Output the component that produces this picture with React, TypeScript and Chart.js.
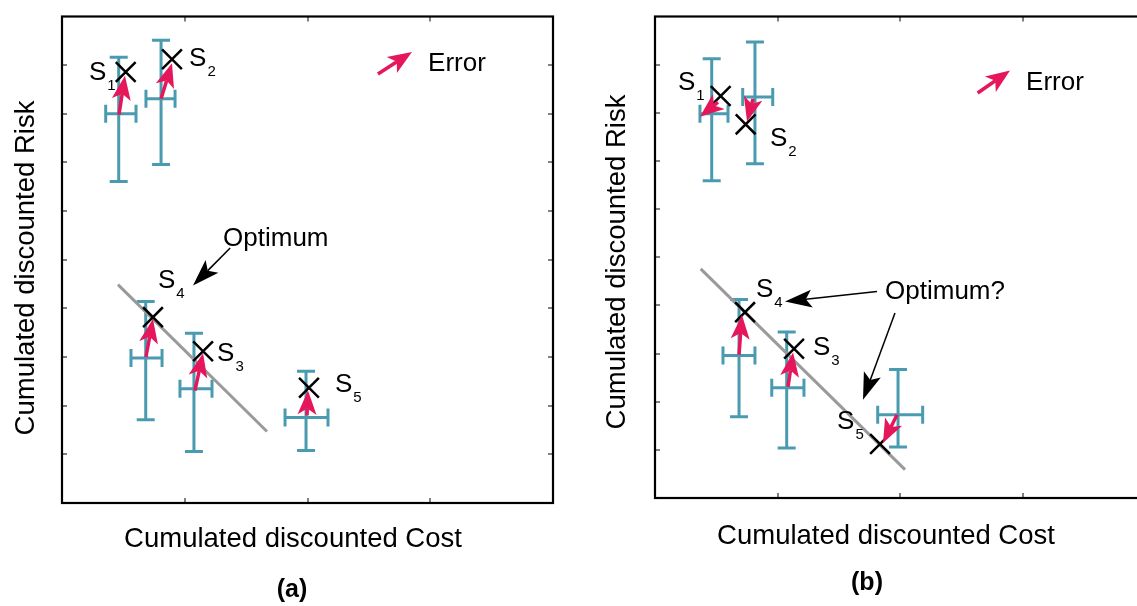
import React, { useEffect, useRef } from 'react';
import { Chart, registerables } from 'chart.js';
Chart.register(...registerables);

// ---------- shared ----------
const xTickValues = [1, 2, 3];
const yTickValues = [1, 2, 3, 4, 5, 6, 7, 8, 9];
const seriesNames = ['1', '2', '3', '4', '5']; // S subscripts

// ---------- panel (a) ----------
const aEstX = [0.462, 0.807, 1.075, 0.682, 1.988];
const aEstY = [8.0, 8.31, 2.35, 2.98, 1.76];
const aXLow = [0.356, 0.684, 0.961, 0.562, 1.817];
const aXHigh = [0.603, 0.921, 1.222, 0.815, 2.167];
const aYLow = [6.61, 6.96, 1.06, 1.71, 1.08];
const aYHigh = [9.16, 9.51, 3.49, 4.14, 2.71];
const aTrueX = [0.519, 0.896, 1.149, 0.741, 2.012];
const aTrueY = [8.86, 9.12, 3.12, 3.82, 2.37];
const aErrFromX = [0.464, 0.807, 1.083, 0.684, 1.996];
const aErrFromY = [7.98, 8.31, 2.31, 3.0, 1.8];
const aErrToX = [0.513, 0.896, 1.149, 0.741, 2.004];
const aErrToY = [8.78, 9.04, 3.08, 3.78, 2.31];
const aFrontX = [0.456, 1.67];
const aFrontY = [4.49, 1.47];
const aLabelX = [0.22, 1.035, 1.263, 0.782, 2.224];
const aLabelY = [8.69, 8.98, 2.92, 4.41, 2.29];

// ---------- panel (b) ----------
const bEstX = [0.463, 0.816, 1.075, 0.686, 1.984];
const bEstY = [7.98, 8.33, 2.29, 2.96, 1.73];
const bXLow = [0.367, 0.716, 0.953, 0.555, 1.818];
const bXHigh = [0.596, 0.961, 1.216, 0.816, 2.185];
const bYLow = [6.59, 6.94, 1.04, 1.69, 1.06];
const bYHigh = [9.12, 9.47, 3.45, 4.12, 2.67];
const bTrueX = [0.536, 0.74, 1.135, 0.735, 1.837];
const bTrueY = [8.35, 7.76, 3.1, 3.86, 1.12];
const bErrFromX = [0.514, 0.8, 1.086, 0.686, 1.976];
const bErrFromY = [8.22, 8.29, 2.31, 2.98, 1.73];
const bErrToX = [0.367, 0.751, 1.127, 0.71, 1.861];
const bErrToY = [7.92, 7.82, 3.02, 3.8, 1.14];
const bFrontX = [0.373, 2.041];
const bFrontY = [4.76, 0.59];
const bLabelX = [0.188, 0.939, 1.29, 0.824, 1.486];
const bLabelY = [8.47, 7.31, 2.98, 4.18, 1.43];

// ---------- annotation text ----------
const xTitle = 'Cumulated discounted Cost';
const yTitle = 'Cumulated discounted Risk';
const legendText = 'Error';

const FONT = "'Liberation Sans', Arial, Helvetica, sans-serif";
const TEAL = '#4a9bb0';
const PINK = '#e5175a';

type Panel = {
  estX: number[]; estY: number[]; xLow: number[]; xHigh: number[]; yLow: number[]; yHigh: number[];
  trueX: number[]; trueY: number[];
  errFromX: number[]; errFromY: number[]; errToX: number[]; errToY: number[];
  frontX: number[]; frontY: number[];
  labelX: number[]; labelY: number[];
  legendArrow: number[][]; legendLabel: number[];
  optText: string; optLabel: number[]; optArrows: number[][][];
  tag: string;
  canvasLeft: number; width: number; height: number;
  padding: { left: number; top: number; right: number; bottom: number };
  yTitlePos: number[]; xTitlePos: number[]; tagPos: number[];
};

const panelA: Panel = {
  estX: aEstX, estY: aEstY, xLow: aXLow, xHigh: aXHigh, yLow: aYLow, yHigh: aYHigh,
  trueX: aTrueX, trueY: aTrueY,
  errFromX: aErrFromX, errFromY: aErrFromY, errToX: aErrToX, errToY: aErrToY,
  frontX: aFrontX, frontY: aFrontY, labelX: aLabelX, labelY: aLabelY,
  legendArrow: [[2.574, 8.82], [2.851, 9.27]], legendLabel: [2.982, 8.88],
  optText: 'Optimum', optLabel: [1.312, 5.29],
  optArrows: [[[1.37, 5.24], [1.067, 4.47]]],
  tag: '(a)', canvasLeft: 0, width: 600, height: 606,
  padding: { left: 62, top: 13, right: 47, bottom: 103 },
  yTitlePos: [26, 268], xTitlePos: [293, 539], tagPos: [292, 590],
};

const panelB: Panel = {
  estX: bEstX, estY: bEstY, xLow: bXLow, xHigh: bXHigh, yLow: bYLow, yHigh: bYHigh,
  trueX: bTrueX, trueY: bTrueY,
  errFromX: bErrFromX, errFromY: bErrFromY, errToX: bErrToX, errToY: bErrToY,
  frontX: bFrontX, frontY: bFrontY, labelX: bLabelX, labelY: bLabelY,
  legendArrow: [[2.634, 8.41], [2.898, 8.88]], legendLabel: [3.029, 8.47],
  optText: 'Optimum?', optLabel: [1.878, 4.14],
  optArrows: [[[1.812, 4.29], [1.061, 4.08]], [[1.959, 3.84], [1.698, 2.04]]],
  tag: '(b)', canvasLeft: 580, width: 600, height: 606,
  padding: { left: 75, top: 8, right: 35, bottom: 108 },
  yTitlePos: [37, 262], xTitlePos: [306, 536], tagPos: [287, 583],
};

function drawArrow(ctx: CanvasRenderingContext2D, x1: number, y1: number, x2: number, y2: number,
  color: string, lw: number, headLen: number, headW: number, notch: number) {
  const dx = x2 - x1, dy = y2 - y1;
  const len = Math.hypot(dx, dy) || 1;
  const ux = dx / len, uy = dy / len;
  const px = -uy, py = ux;
  const bx = x2 - ux * headLen, by = y2 - uy * headLen;
  const nx = x2 - ux * (headLen - notch), ny = y2 - uy * (headLen - notch);
  ctx.save();
  ctx.strokeStyle = color; ctx.fillStyle = color; ctx.lineWidth = lw; ctx.lineCap = 'butt';
  ctx.beginPath(); ctx.moveTo(x1, y1); ctx.lineTo(nx, ny); ctx.stroke();
  ctx.beginPath();
  ctx.moveTo(x2, y2);
  ctx.lineTo(bx + px * headW / 2, by + py * headW / 2);
  ctx.lineTo(nx, ny);
  ctx.lineTo(bx - px * headW / 2, by - py * headW / 2);
  ctx.closePath(); ctx.fill();
  ctx.restore();
}

function makePlugin(p: Panel) {
  return {
    id: 'decor' + p.tag,
    afterDatasetsDraw(chart: any) {
      const ctx: CanvasRenderingContext2D = chart.ctx;
      const xs = chart.scales.x, ys = chart.scales.y;
      const X = (v: number) => xs.getPixelForValue(v);
      const Y = (v: number) => ys.getPixelForValue(v);
      // error arrows
      for (let i = 0; i < p.errFromX.length; i++) {
        drawArrow(ctx, X(p.errFromX[i]), Y(p.errFromY[i]), X(p.errToX[i]), Y(p.errToY[i]), PINK, 3.5, 24, 19, 6);
      }
      // legend
      const la = p.legendArrow;
      drawArrow(ctx, X(la[0][0]), Y(la[0][1]), X(la[1][0]), Y(la[1][1]), PINK, 3.5, 24, 19, 6);
      ctx.save();
      ctx.fillStyle = '#000';
      ctx.textBaseline = 'alphabetic';
      ctx.textAlign = 'left';
      ctx.font = `26px ${FONT}`;
      ctx.fillText(legendText, X(p.legendLabel[0]), Y(p.legendLabel[1]));
      // S labels
      for (let i = 0; i < p.labelX.length; i++) {
        const lx = X(p.labelX[i]), ly = Y(p.labelY[i]);
        ctx.font = `26px ${FONT}`;
        ctx.fillText('S', lx, ly);
        const w = ctx.measureText('S').width;
        ctx.font = `15px ${FONT}`;
        ctx.fillText(seriesNames[i], lx + w + 1, ly + 10);
      }
      // optimum annotation
      ctx.font = `26px ${FONT}`;
      ctx.fillText(p.optText, X(p.optLabel[0]), Y(p.optLabel[1]));
      ctx.restore();
      for (const a of p.optArrows) {
        drawArrow(ctx, X(a[0][0]), Y(a[0][1]), X(a[1][0]), Y(a[1][1]), '#000', 1.5, 27, 18, 6);
      }
    },
    afterDraw(chart: any) {
      const ctx: CanvasRenderingContext2D = chart.ctx;
      const ca = chart.chartArea;
      const xs = chart.scales.x, ys = chart.scales.y;
      ctx.save();
      // inner ticks
      ctx.strokeStyle = '#808080';
      ctx.lineWidth = 2;
      ctx.beginPath();
      for (const t of xTickValues) {
        const x = Math.round(xs.getPixelForValue(t));
        ctx.moveTo(x, ca.top); ctx.lineTo(x, ca.top + 5);
        ctx.moveTo(x, ca.bottom); ctx.lineTo(x, ca.bottom - 5);
      }
      for (const t of yTickValues) {
        const y = Math.round(ys.getPixelForValue(t));
        ctx.moveTo(ca.left, y); ctx.lineTo(ca.left + 5, y);
        ctx.moveTo(ca.right, y); ctx.lineTo(ca.right - 5, y);
      }
      ctx.stroke();
      // box
      ctx.strokeStyle = '#000';
      ctx.lineWidth = 2.2;
      ctx.strokeRect(ca.left, ca.top, ca.right - ca.left, ca.bottom - ca.top);
      // titles
      ctx.fillStyle = '#000';
      ctx.textAlign = 'center';
      ctx.textBaseline = 'middle';
      ctx.font = `27.5px ${FONT}`;
      ctx.fillText(xTitle, p.xTitlePos[0], p.xTitlePos[1]);
      ctx.save();
      ctx.translate(p.yTitlePos[0], p.yTitlePos[1]);
      ctx.rotate(-Math.PI / 2);
      ctx.fillText(yTitle, 0, 0);
      ctx.restore();
      ctx.font = `bold 25px ${FONT}`;
      ctx.fillText(p.tag, p.tagPos[0], p.tagPos[1]);
      ctx.restore();
    },
  };
}

function buildDatasets(p: Panel) {
  const ds: any[] = [];
  for (let i = 0; i < p.estX.length; i++) {
    ds.push({
      data: [{ x: p.estX[i], y: p.yLow[i] }, { x: p.estX[i], y: p.yHigh[i] }],
      showLine: true, borderColor: TEAL, borderWidth: 3,
      pointStyle: 'line', pointRadius: 9, pointBorderWidth: 3, pointBorderColor: TEAL, pointBackgroundColor: TEAL,
      order: 5,
    });
    ds.push({
      data: [{ x: p.xLow[i], y: p.estY[i] }, { x: p.xHigh[i], y: p.estY[i] }],
      showLine: true, borderColor: TEAL, borderWidth: 3,
      pointStyle: 'line', pointRotation: 90, pointRadius: 9, pointBorderWidth: 3, pointBorderColor: TEAL, pointBackgroundColor: TEAL,
      order: 5,
    });
  }
  ds.push({
    data: p.frontX.map((x, i) => ({ x, y: p.frontY[i] })),
    showLine: true, borderColor: '#9a9a9a', borderWidth: 3, pointRadius: 0, order: 4,
  });
  ds.push({
    data: p.trueX.map((x, i) => ({ x, y: p.trueY[i] })),
    showLine: false, pointStyle: 'crossRot', pointRadius: 14, pointBorderWidth: 2.5,
    pointBorderColor: '#000', pointBackgroundColor: '#000', order: 1,
  });
  return ds;
}

function PanelChart({ p }: { p: Panel }) {
  const ref = useRef<HTMLCanvasElement>(null);
  useEffect(() => {
    if (!ref.current) return;
    const chart = new Chart(ref.current, {
      type: 'scatter',
      data: { datasets: buildDatasets(p) },
      options: {
        responsive: false,
        animation: false,
        events: [],
        layout: { padding: p.padding },
        plugins: { legend: { display: false }, tooltip: { enabled: false }, title: { display: false } },
        scales: {
          x: { type: 'linear', min: 0, max: 4, display: false, ticks: { stepSize: 1 } },
          y: { type: 'linear', min: 0, max: 10, display: false, ticks: { stepSize: 1 } },
        },
      },
      plugins: [makePlugin(p)],
    } as any);
    return () => chart.destroy();
  }, [p]);
  return (
    <canvas
      ref={ref}
      width={p.width}
      height={p.height}
      style={{ position: 'absolute', left: p.canvasLeft, top: 0, width: p.width, height: p.height }}
    />
  );
}

export default function App() {
  useEffect(() => {
    document.body.style.margin = '0';
    document.body.style.overflow = 'hidden';
  }, []);
  return (
    <div style={{ position: 'relative', width: 1137, height: 606, overflow: 'hidden', background: '#fff' }}>
      <PanelChart p={panelA} />
      <PanelChart p={panelB} />
    </div>
  );
}
